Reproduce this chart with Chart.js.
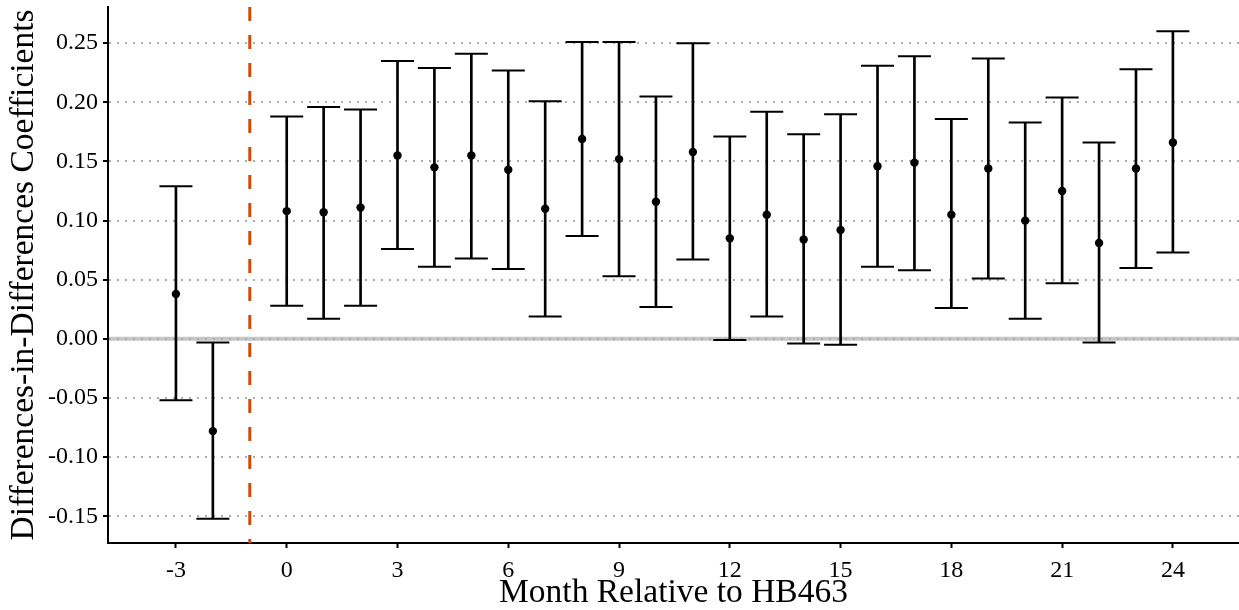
<!DOCTYPE html>
<html>
<head>
<meta charset="utf-8">
<style>
  html, body { margin: 0; padding: 0; background: #ffffff; }
  #wrap { width: 1239px; height: 610px; }
</style>
<script src="https://cdn.jsdelivr.net/npm/chart.js@4.4.1/dist/chart.umd.min.js"></script>
</head>
<body>
<div id="wrap"><canvas id="c" width="1239" height="610"></canvas></div>
<script>
// ---- data ----
const months = [-3, -2, 0, 1, 2, 3, 4, 5, 6, 7, 8, 9, 10, 11, 12, 13, 14, 15, 16, 17, 18, 19, 20, 21, 22, 23, 24];
const estimates = [0.038, -0.078, 0.108, 0.107, 0.111, 0.155, 0.145, 0.155, 0.143, 0.110, 0.169, 0.152, 0.116, 0.158, 0.085, 0.105, 0.084, 0.092, 0.146, 0.149, 0.105, 0.144, 0.100, 0.125, 0.081, 0.144, 0.166];
const upperCI = [0.129, -0.003, 0.188, 0.196, 0.194, 0.235, 0.229, 0.241, 0.227, 0.201, 0.251, 0.251, 0.205, 0.250, 0.171, 0.192, 0.173, 0.190, 0.231, 0.239, 0.186, 0.237, 0.183, 0.204, 0.166, 0.228, 0.260];
const lowerCI = [-0.052, -0.152, 0.028, 0.017, 0.028, 0.076, 0.061, 0.068, 0.059, 0.019, 0.087, 0.053, 0.027, 0.067, -0.001, 0.019, -0.004, -0.005, 0.061, 0.058, 0.026, 0.051, 0.017, 0.047, -0.003, 0.060, 0.073];
const xTickValues = [-3, 0, 3, 6, 9, 12, 15, 18, 21, 24];
const yTickValues = [-0.15, -0.10, -0.05, 0.00, 0.05, 0.10, 0.15, 0.20, 0.25];
const treatmentLine = -1;
const referenceLine = 0;
const xTitle = 'Month Relative to HB463';
const yTitle = 'Differences-in-Differences Coefficients';

// ---- build datasets ----
const whiskers = months.map((m, i) => ({ x: m, y: [lowerCI[i], upperCI[i]] }));
const upperCaps = months.map((m, i) => ({ x: m, y: upperCI[i] }));
const lowerCaps = months.map((m, i) => ({ x: m, y: lowerCI[i] }));
const pointsData = months.map((m, i) => ({ x: m, y: estimates[i] }));

const FONT = '"Liberation Serif", "Times New Roman", serif';

const refLines = {
  id: 'refLines',
  beforeDraw(chart) {
    const { ctx, chartArea, scales } = chart;
    const y0 = scales.y.getPixelForValue(referenceLine);
    ctx.save();
    ctx.strokeStyle = '#c6c6c6';
    ctx.lineWidth = 4;
    ctx.beginPath();
    ctx.moveTo(chartArea.left, y0);
    ctx.lineTo(chartArea.right, y0);
    ctx.stroke();
    ctx.restore();
  },
  beforeDatasetsDraw(chart) {
    const { ctx, chartArea, scales } = chart;
    const x = scales.x.getPixelForValue(treatmentLine);
    ctx.save();
    ctx.strokeStyle = '#cc4c0c';
    ctx.lineWidth = 3;
    ctx.setLineDash([14, 14]);
    ctx.beginPath();
    ctx.moveTo(x, chartArea.top);
    ctx.lineTo(x, chartArea.bottom);
    ctx.stroke();
    ctx.restore();
  }
};

new Chart(document.getElementById('c'), {
  type: 'scatter',
  data: {
    datasets: [
      {
        type: 'bar',
        data: whiskers,
        backgroundColor: '#000000',
        borderWidth: 0,
        barThickness: 2,
        order: 3
      },
      {
        type: 'scatter',
        data: upperCaps,
        pointStyle: 'line',
        pointRadius: 16.5,
        pointHoverRadius: 16.5,
        borderColor: '#000000',
        borderWidth: 2,
        clip: false,
        order: 2
      },
      {
        type: 'scatter',
        data: lowerCaps,
        pointStyle: 'line',
        pointRadius: 16.5,
        pointHoverRadius: 16.5,
        borderColor: '#000000',
        borderWidth: 2,
        clip: false,
        order: 2
      },
      {
        type: 'scatter',
        data: pointsData,
        pointStyle: 'circle',
        pointRadius: 4.2,
        backgroundColor: '#000000',
        borderWidth: 0,
        order: 1
      }
    ]
  },
  options: {
    responsive: false,
    animation: false,
    events: [],
    layout: { autoPadding: false, padding: { top: 7, right: 0, left: 0, bottom: 0 } },
    plugins: { legend: { display: false }, tooltip: { enabled: false } },
    scales: {
      x: {
        type: 'linear',
        min: -4.84,
        max: 25.79,
        offset: false,
        afterBuildTicks: (s) => { s.ticks = xTickValues.map(v => ({ value: v })); },
        afterFit: (s) => { s.height = 67; s.paddingLeft = 0; s.paddingRight = 0; },
        grid: {
          display: true,
          offset: false,
          drawOnChartArea: false,
          drawTicks: true,
          tickLength: 5,
          tickColor: '#000000',
          tickWidth: 2
        },
        border: { display: true, color: '#000000', width: 2 },
        ticks: {
          color: '#000000',
          font: { family: FONT, size: 24 },
          padding: 8,
          maxRotation: 0,
          autoSkip: false,
          callback: (v) => String(v)
        },
        title: {
          display: true,
          text: xTitle,
          color: '#000000',
          font: { family: FONT, size: 33.5 },
          padding: { top: 0, bottom: -3 }
        }
      },
      y: {
        type: 'linear',
        min: -0.1726,
        max: 0.2806,
        beginAtZero: false,
        afterBuildTicks: (s) => { s.ticks = yTickValues.map(v => ({ value: v })); },
        afterFit: (s) => { s.width = 108; s.paddingTop = 0; s.paddingBottom = 0; },
        grid: {
          display: true,
          drawOnChartArea: true,
          drawTicks: true,
          color: '#ababab',
          lineWidth: 2,
          tickLength: 5,
          tickColor: '#000000',
          tickWidth: 2
        },
        border: { display: true, color: '#000000', width: 2, dash: [2, 6] },
        ticks: {
          color: '#000000',
          font: { family: FONT, size: 24 },
          padding: 5,
          autoSkip: false,
          callback: (v) => v.toFixed(2)
        },
        title: {
          display: true,
          text: yTitle,
          color: '#000000',
          font: { family: FONT, size: 33.5 },
          padding: { top: 4, bottom: 0 }
        }
      }
    }
  },
  plugins: [refLines]
});
</script>
</body>
</html>
